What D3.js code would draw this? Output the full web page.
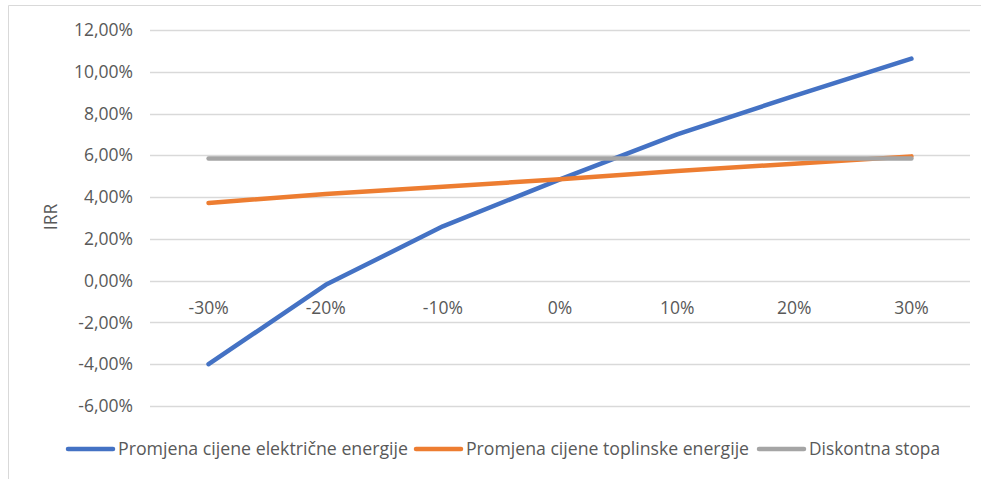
<!DOCTYPE html>
<html><head><meta charset="utf-8">
<script src="https://cdn.jsdelivr.net/npm/d3@7"></script>
<style>html,body{margin:0;padding:0;background:#fff;}svg{display:block;}</style>
</head><body><svg id="c" width="981" height="479"></svg>
<script>
const categories = ["-30%","-20%","-10%","0%","10%","20%","30%"];
const electric = [-0.0400,-0.0020,0.0260,0.0485,0.0700,0.0885,0.1063];
const heat = [0.0372,0.0415,0.0450,0.0485,0.0525,0.0560,0.0595];
const discount = [0.0585,0.0585,0.0585,0.0585,0.0585,0.0585,0.0585];
const yTicks = [-0.06,-0.04,-0.02,0,0.02,0.04,0.06,0.08,0.10,0.12];
const seriesNames = ["Promjena cijene električne energije","Promjena cijene toplinske energije","Diskontna stopa"];
const colors = ["#4472C4","#ED7D31","#A5A5A5"];

const svg = d3.select("#c");
const font = "'Open Sans', sans-serif";
// chart border (top & left visible)
svg.append("path").attr("d","M8.5,479V5.5H981").attr("fill","none").attr("stroke","#d9d9d9");

const x = d3.scaleBand().domain(categories).range([150,970]).padding(0);
const y = d3.scaleLinear().domain([-0.06,0.12]).range([406,30]);
const fmt = v => (v*100).toFixed(2).replace(".",",").replace("-0,00","0,00") + "%";

// gridlines
svg.append("g").selectAll("line").data(yTicks).join("line")
  .attr("x1",150).attr("x2",970).attr("y1",d=>Math.round(y(d))+0.5).attr("y2",d=>Math.round(y(d))+0.5)
  .attr("stroke","#d9d9d9").attr("stroke-width",1.3);

// y axis labels
const yAxis = d3.axisLeft(y).tickValues(yTicks).tickFormat(fmt).tickSize(0).tickPadding(0);
const gy = svg.append("g").attr("transform","translate(133,0)").call(yAxis);
gy.select(".domain").remove();
gy.selectAll("text").attr("font-family",font).attr("font-size",17.5).attr("fill","#595959");

// x axis labels
const xAxis = d3.axisBottom(x).tickSize(0).tickPadding(0);
const gx = svg.append("g").attr("transform","translate(0,297)").call(xAxis);
gx.select(".domain").remove();
gx.selectAll("text").attr("font-family",font).attr("font-size",17.5).attr("fill","#595959").attr("dy","0.35em").attr("y",11);

// y title
svg.append("text").attr("transform","translate(57,217) rotate(-90)").attr("text-anchor","middle")
  .attr("font-family",font).attr("font-size",17.5).attr("fill","#595959").text("IRR");

const line = d3.line().x((d,i)=>x(categories[i])+x.bandwidth()/2).y(d=>y(d));
const data = [electric, heat, discount];
data.forEach((s,k)=>{
  svg.append("path").datum(s).attr("d",line).attr("fill","none")
    .attr("stroke",colors[k]).attr("stroke-width",4.5).attr("stroke-linecap","round").attr("stroke-linejoin","round");
});

// legend
const legX = [68,416,759];
const legW = [290,283,131];
const lg = svg.append("g");
seriesNames.forEach((n,k)=>{
  lg.append("line").attr("x1",legX[k]).attr("x2",legX[k]+45).attr("y1",449).attr("y2",449)
    .attr("stroke",colors[k]).attr("stroke-width",4.5).attr("stroke-linecap","round");
  lg.append("text").attr("x",legX[k]+50).attr("y",449).attr("dy","0.35em")
    .attr("font-family",font).attr("font-size",17.5).attr("fill","#595959")
    .attr("textLength",legW[k]).attr("lengthAdjust","spacingAndGlyphs").text(n);
});
</script></body></html>
